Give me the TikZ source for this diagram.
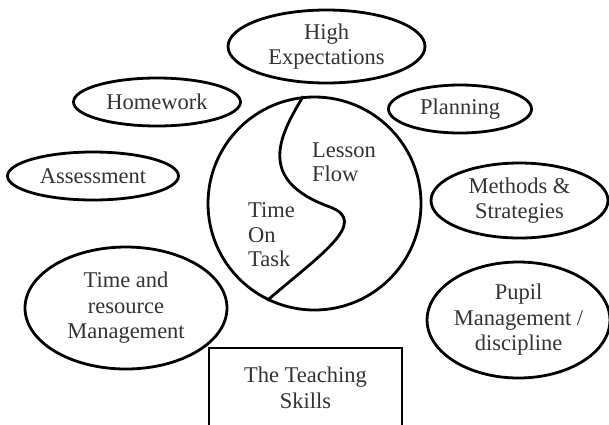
\documentclass[tikz,border=0pt]{standalone}
\usepackage{fontspec}
\setmainfont{Liberation Serif}
\usetikzlibrary{shapes.geometric}
\begin{document}
\begin{tikzpicture}[x=1pt,y=-1pt,
  every node/.style={font=\fontsize{22.5}{25.5}\selectfont, text=black!80},
  oval/.style={draw=black, line width=2.8pt, ellipse, inner sep=0pt, align=center},
  ring/.style={draw=black, line width=2.8pt, circle, inner sep=0pt},
  boxed/.style={draw=black, line width=2.8pt, rectangle, inner sep=0pt, align=center},
  curveline/.style={draw=black, line width=2.8pt},
  lbl/.style={anchor=west, align=left, inner sep=0pt, font=\fontsize{22.5}{24.5}\selectfont}]
\useasboundingbox (0,0) rectangle (609,424);
\fill[white] (0,0) rectangle (609,424);
\node[oval, minimum width=197pt, minimum height=73pt] (high) at (326.5,46.5) {High\\Expectations};
\node[oval, minimum width=167pt, minimum height=48pt] (home) at (157,102) {Homework};
\node[oval, minimum width=143pt, minimum height=48pt] (plan) at (460,109) {Planning};
\node[oval, minimum width=171pt, minimum height=48pt] (assess) at (93,176) {Assessment};
\node[oval, minimum width=177pt, minimum height=75pt] (meth) at (519.5,200.5) {Methods \&\\Strategies};
\node[oval, minimum width=202pt, minimum height=122pt] (time) at (126,308) {Time and\\resource\\Management};
\node[oval, minimum width=179pt, minimum height=116pt] (pupil) at (518.5,320) {Pupil\\Management /\\discipline};
\node[boxed, minimum width=193pt, minimum height=80pt] (skills) at (305.5,388) {The Teaching\\Skills};
\node[ring, minimum size=213pt] (circ) at (314.5,203.5) {};
\coordinate (bend) at (330,207);
\draw[curveline] (circ.96) .. controls (280,135) and (255,180) .. (bend)
  .. controls (370,222) and (320,255) .. (circ.244);
\node[lbl] (lesson) at (312,162) {Lesson\\Flow};
\node[lbl] (tot) at (248,235) {Time\\On\\Task};
\end{tikzpicture}
\end{document}
